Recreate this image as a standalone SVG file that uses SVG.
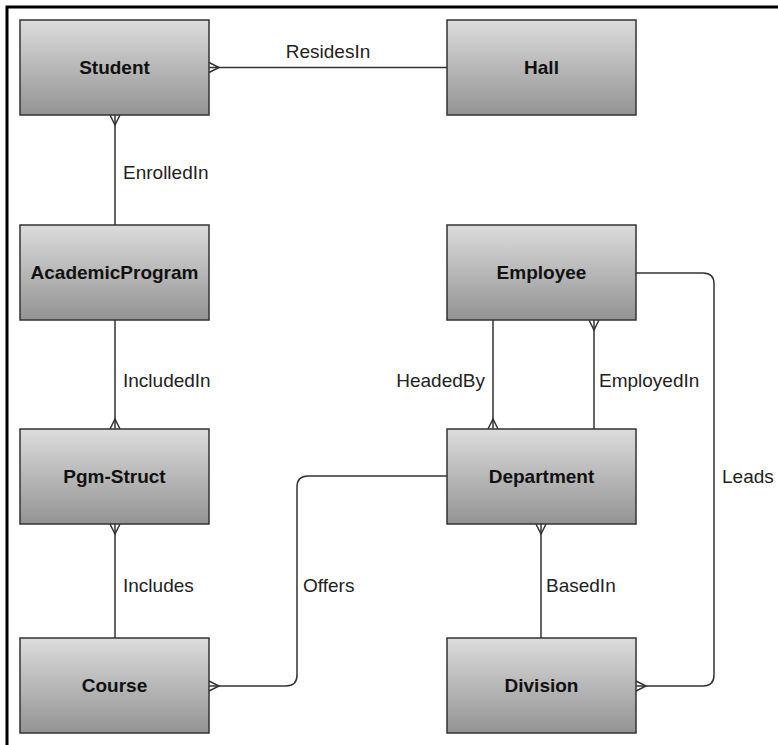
<svg xmlns="http://www.w3.org/2000/svg" width="778" height="745" viewBox="0 0 778 745">
<defs>
<linearGradient id="g" x1="0" y1="0" x2="0" y2="1">
<stop offset="0" stop-color="#dcdcdc"/>
<stop offset="1" stop-color="#939393"/>
</linearGradient>
<style>
.box{fill:url(#g);stroke:#333;stroke-width:1.5}
.nt{font-family:"Liberation Sans",Arial,sans-serif;font-weight:bold;font-size:19px;fill:#111;text-anchor:middle}
.lb{font-family:"Liberation Sans",Arial,sans-serif;font-size:19px;fill:#222}
.ln{fill:none;stroke:#333;stroke-width:1.5}
</style>
</defs>
<rect width="778" height="745" fill="#fff"/>
<path d="M7,745 V7 H778" fill="none" stroke="#000" stroke-width="3"/>
<g id="connectors">
<path class="ln" d="M209,67.5 H447"/>
<path class="ln" d="M209,62.5 L219,67.5 L209,72.5"/>
<text class="lb" x="328" y="58" text-anchor="middle">ResidesIn</text>
<path class="ln" d="M115,115 V225"/>
<path class="ln" d="M110,115 L115,125 L120,115"/>
<text class="lb" x="123" y="179">EnrolledIn</text>
<path class="ln" d="M115,320 V429"/>
<path class="ln" d="M110,429 L115,419 L120,429"/>
<text class="lb" x="123" y="387">IncludedIn</text>
<path class="ln" d="M115,524 V638"/>
<path class="ln" d="M110,524 L115,534 L120,524"/>
<text class="lb" x="123" y="592">Includes</text>
<path class="ln" d="M447,476 H308 Q297,476 297,487 V675 Q297,686 286,686 H209"/>
<path class="ln" d="M209,681 L219,686 L209,691"/>
<text class="lb" x="303" y="592">Offers</text>
<path class="ln" d="M493,320 V429"/>
<path class="ln" d="M488,429 L493,419 L498,429"/>
<text class="lb" x="485" y="387" text-anchor="end">HeadedBy</text>
<path class="ln" d="M594,320 V429"/>
<path class="ln" d="M589,320 L594,330 L599,320"/>
<text class="lb" x="599" y="387">EmployedIn</text>
<path class="ln" d="M541,524 V638"/>
<path class="ln" d="M536,524 L541,534 L546,524"/>
<text class="lb" x="546" y="592">BasedIn</text>
<path class="ln" d="M636,273 H703 Q714,273 714,284 V675 Q714,686 703,686 H636"/>
<path class="ln" d="M636,681 L646,686 L636,691"/>
<text class="lb" x="722" y="483">Leads</text>
</g>
<g id="student"><rect class="box" x="20" y="20" width="189" height="95"/><text class="nt" x="114.5" y="74">Student</text></g>
<g id="hall"><rect class="box" x="447" y="20" width="189" height="95"/><text class="nt" x="541.5" y="74">Hall</text></g>
<g id="academicprogram"><rect class="box" x="20" y="225" width="189" height="95"/><text class="nt" x="114.5" y="279">AcademicProgram</text></g>
<g id="employee"><rect class="box" x="447" y="225" width="189" height="95"/><text class="nt" x="541.5" y="279">Employee</text></g>
<g id="pgmstruct"><rect class="box" x="20" y="429" width="189" height="95"/><text class="nt" x="114.5" y="483">Pgm-Struct</text></g>
<g id="department"><rect class="box" x="447" y="429" width="189" height="95"/><text class="nt" x="541.5" y="483">Department</text></g>
<g id="course"><rect class="box" x="20" y="638" width="189" height="95"/><text class="nt" x="114.5" y="692">Course</text></g>
<g id="division"><rect class="box" x="447" y="638" width="189" height="95"/><text class="nt" x="541.5" y="692">Division</text></g>
</svg>
